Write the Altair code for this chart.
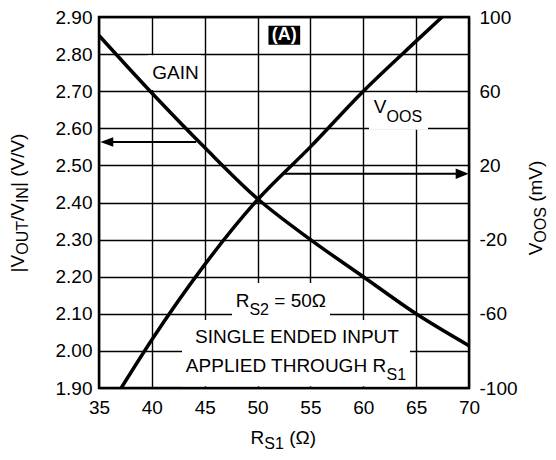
import altair as alt
import pandas as pd

# ---------------- data ----------------
RS1_GAIN = [35, 40, 45, 50, 55, 60, 65, 70]
GAIN = [2.85, 2.695, 2.548, 2.41, 2.30, 2.20, 2.10, 2.014]

RS1_VOOS = [37.1, 40, 45, 50, 55, 60, 65, 67.45]
VOOS = [-100, -74, -33.5, 1.5, 30, 60, 87, 100]

X_TICKS = [35, 40, 45, 50, 55, 60, 65, 70]
GAIN_TICKS = [1.90, 2.00, 2.10, 2.20, 2.30, 2.40, 2.50, 2.60, 2.70, 2.80, 2.90]
VOOS_TICKS = [-100, -60, -20, 20, 60, 100]

# text pieces: (text, kind)  kind = main / sub (subscript)
GAIN_LABEL = [("GAIN", "main")]
VOOS_LABEL = [("V", "main"), ("OOS", "sub")]
RS2_LABEL = [("R", "main"), ("S2", "sub"), (" = 50Ω", "main")]
NOTE_1 = [("SINGLE ENDED INPUT", "main")]
NOTE_2 = [("APPLIED THROUGH R", "main"), ("S1", "sub")]
PANEL = ["(A)"]
X_TITLE = [("R", "main"), ("S1", "sub"), (" (Ω)", "main")]
Y_LEFT_TITLE = [("|V", "main"), ("OUT", "sub"), ("/V", "main"), ("IN", "sub"), ("| (V/V)", "main")]
Y_RIGHT_TITLE = [("V", "main"), ("OOS", "sub"), (" (mV)", "main")]

# ---------------- layout / style ----------------
FONT = "Liberation Sans"
MAIN = 19
SUB = 16
W_PLOT, H_PLOT = 370, 371

xs = alt.Scale(domain=[35, 70], nice=False, zero=False)
ys = alt.Scale(domain=[1.9, 2.9], nice=False, zero=False)
vs = alt.Scale(domain=[-100, 100], nice=False, zero=False)


def x_axis():
    # identical definition in every layer so the shared x axis merges cleanly
    return alt.Axis(values=X_TICKS, grid=True, title=None, labelPadding=10,
                    labelFlush=False, format="d")


def X(field):
    return alt.X(field, scale=xs, axis=x_axis())


# Arial / Liberation Sans advance widths (1/1000 em)
WID = {' ': 278, '(': 333, ')': 333, '/': 278, '|': 260, '=': 584, '.': 278,
       '0': 556, '1': 556, '2': 556, '5': 556,
       'A': 667, 'D': 722, 'E': 667, 'G': 778, 'H': 722, 'I': 278, 'L': 556,
       'N': 722, 'O': 778, 'P': 667, 'R': 722, 'S': 667, 'T': 611, 'U': 722,
       'V': 667, 'm': 833, 'Ω': 768}


def tw(s, size):
    return sum(WID.get(c, 556) for c in s) * size / 1000.0


def pieces_layers(pieces, data_xy=None, px_xy=None, angle=0, shift=8):
    sizes = [MAIN if k == "main" else SUB for _, k in pieces]
    widths = [tw(t, s) for (t, _), s in zip(pieces, sizes)]
    pos = -sum(widths) / 2.0
    out = []
    for (t, k), s, w in zip(pieces, sizes, widths):
        lead = len(t) - len(t.lstrip(" "))
        start = pos + tw(" " * lead, s)
        kw = dict(align="left", baseline="alphabetic", dx=start,
                  dy=(shift if k == "sub" else 0), fontSize=s, font=FONT,
                  color="black")
        if angle:
            kw["angle"] = angle
        txt = t.lstrip(" ")
        if data_xy is not None:
            df = pd.DataFrame({"t": [txt], "x": [data_xy[0]], "y": [data_xy[1]]})
            ch = alt.Chart(df).mark_text(**kw).encode(
                x=X("x:Q"),
                y=alt.Y("y:Q", scale=ys, axis=None),
                text="t:N")
        else:
            df = pd.DataFrame({"t": [txt]})
            ch = alt.Chart(df).mark_text(**kw).encode(
                x=alt.value(px_xy[0]), y=alt.value(px_xy[1]), text="t:N")
        out.append(ch)
        pos += w
    return out


# white boxes that mask the grid behind labels (data coords)
BOXES = pd.DataFrame({
    "x": [39.64, 60.54, 47.58, 42.85],
    "x2": [44.65, 66.12, 56.85, 64.42],
    "y": [2.703, 2.596, 2.083, 1.905],
    "y2": [2.797, 2.696, 2.183, 2.083],
})
boxes = alt.Chart(BOXES).mark_rect(color="white", opacity=1).encode(
    x=X("x:Q"), x2="x2:Q",
    y=alt.Y("y:Q", scale=ys, axis=None), y2="y2:Q")

panel_box = alt.Chart(pd.DataFrame({"x": [51.03], "x2": [54.03], "y": [2.8253], "y2": [2.8766]})
                      ).mark_rect(color="black").encode(
    x=X("x:Q"), x2="x2:Q",
    y=alt.Y("y:Q", scale=ys, axis=None), y2="y2:Q")
panel_text = alt.Chart(pd.DataFrame({"t": PANEL, "x": [52.53], "y": [2.851]})).mark_text(
    font=FONT, fontSize=18, fontWeight="bold", color="white", align="center",
    baseline="middle").encode(
    x=X("x:Q"), y=alt.Y("y:Q", scale=ys, axis=None), text="t:N")

gain_df = pd.DataFrame({"rs1": RS1_GAIN, "gain": GAIN})
gain_line = alt.Chart(gain_df).mark_line(color="black", strokeWidth=3.5, interpolate="monotone").encode(
    x=X("rs1:Q"),
    y=alt.Y("gain:Q", scale=ys,
            axis=alt.Axis(values=GAIN_TICKS, format=".2f", grid=True, title=None,
                          labelPadding=7, orient="left", labelFlush=False)),
)

voos_df = pd.DataFrame({"rs1": RS1_VOOS, "voos": VOOS})
voos_line = alt.Chart(voos_df).mark_line(color="black", strokeWidth=3.5, interpolate="monotone").encode(
    x=X("rs1:Q"),
    y=alt.Y("voos:Q", scale=vs,
            axis=alt.Axis(values=VOOS_TICKS, orient="right", grid=False, title=None,
                          labelPadding=10, labelFlush=False,
                          labelExpr="datum.value < 0 ? '-' + format(-datum.value, 'd') : format(datum.value, 'd')")),
)

# arrows
left_arrow = alt.Chart(pd.DataFrame({"x": [35.6], "x2": [44.2], "y": [2.563]})).mark_rule(
    color="black", strokeWidth=2).encode(
    x=X("x:Q"), x2="x2:Q", y=alt.Y("y:Q", scale=ys, axis=None))
left_head = alt.Chart(pd.DataFrame({"x": [35.12], "y": [2.563]})).mark_point(
    shape="M 0 0 L 2 -0.72 L 2 0.72 Z", filled=True, size=169, color="black", opacity=1).encode(
    x=X("x:Q"), y=alt.Y("y:Q", scale=ys, axis=None))
right_arrow = alt.Chart(pd.DataFrame({"x": [52.3], "x2": [69.4], "y": [15.5]})).mark_rule(
    color="black", strokeWidth=2).encode(
    x=X("x:Q"), x2="x2:Q", y=alt.Y("y:Q", scale=vs, axis=None))
right_head = alt.Chart(pd.DataFrame({"x": [69.97], "y": [15.5]})).mark_point(
    shape="M 0 0 L -2 -0.8 L -2 0.8 Z", filled=True, size=169, color="black", opacity=1).encode(
    x=X("x:Q"), y=alt.Y("y:Q", scale=vs, axis=None))

layers = [boxes, panel_box, panel_text]
layers += pieces_layers(GAIN_LABEL, data_xy=(42.24, 2.732))
layers += pieces_layers(VOOS_LABEL, data_xy=(63.28, 2.640), shift=9)
layers += pieces_layers(RS2_LABEL, data_xy=(52.22, 2.119), shift=8)
layers += pieces_layers(NOTE_1, data_xy=(53.73, 2.022))
layers += pieces_layers(NOTE_2, data_xy=(53.63, 1.944), shift=8)
layers += pieces_layers(X_TITLE, px_xy=(184.5, 427), shift=5)
layers += pieces_layers(Y_LEFT_TITLE, px_xy=(-75.5, 186), angle=270, shift=4.5)
layers += pieces_layers(Y_RIGHT_TITLE, px_xy=(443, 191), angle=270, shift=3.5)
layers += [left_arrow, left_head, right_arrow, right_head, voos_line, gain_line]

chart = alt.layer(*layers).resolve_scale(y="independent").properties(
    width=W_PLOT, height=H_PLOT,
    padding={"left": 91, "top": 9, "right": 79, "bottom": 64},
    autosize=alt.AutoSizeParams(type="none"),
    background="white",
).configure_view(
    stroke="black", strokeWidth=2.5
).configure_axis(
    labelFont=FONT, labelFontSize=19, labelColor="black",
    gridColor="black", gridWidth=1.4, gridOpacity=1,
    ticks=False, domain=False, labelOverlap=False,
)

chart.save("out.html", embed_options={"renderer": "svg", "actions": False})
